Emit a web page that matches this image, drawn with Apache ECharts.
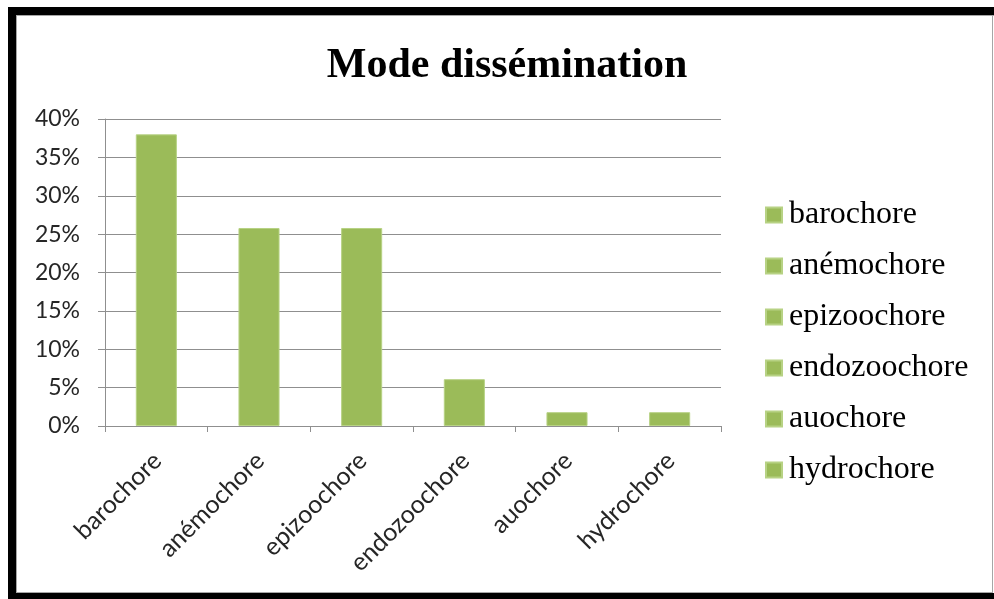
<!DOCTYPE html>
<html>
<head>
<meta charset="utf-8">
<title>Mode dissémination</title>
<script src="https://cdn.jsdelivr.net/npm/echarts@6/dist/echarts.min.js"></script>
<style>
  html, body { margin: 0; padding: 0; background: #ffffff; overflow: hidden; }
  #chart { width: 994px; height: 599px; }
</style>
</head>
<body>
<div id="chart"></div>
<script>
// Dispersal modes and their share of species (%)
const categories = ['barochore', 'anémochore', 'epizoochore', 'endozoochore', 'auochore', 'hydrochore'];
const shares = [38, 25.8, 25.8, 6.1, 1.8, 1.8];
const yTicks = { min: 0, max: 40, interval: 5 };

const barColor = '#9BBB59';
const gridGrey = '#8f8f8f';

// One series per mode so each gets its own legend entry; a shared stack keeps every bar centred.
const series = categories.map((name, i) => ({
  name: name,
  type: 'bar',
  stack: 'modes',
  barWidth: '40%',
  itemStyle: { color: barColor, borderColor: '#b7d284', borderWidth: 1 },
  data: categories.map((_, j) => (j === i ? shares[i] : '-'))
}));

const chart = echarts.init(document.getElementById('chart'), null, { renderer: 'canvas' });
chart.setOption({
  backgroundColor: '#ffffff',
  animation: false,
  title: {
    text: 'Mode dissémination',
    left: 507,
    textAlign: 'center',
    top: 45,
    padding: 0,
    textStyle: { fontFamily: 'Liberation Serif', fontWeight: 'bold', fontSize: 42, color: '#000000' }
  },
  legend: {
    orient: 'vertical',
    left: 765,
    top: 199,
    padding: 0,
    itemWidth: 16,
    itemHeight: 15,
    itemGap: 19,
    icon: 'rect',
    data: categories,
    textStyle: { fontFamily: 'Liberation Serif', fontSize: 32, lineHeight: 32, color: '#000000', padding: [0, 0, 0, 2] }
  },
  grid: { left: 105, right: 273, top: 119, bottom: 173, containLabel: false },
  xAxis: {
    type: 'category',
    data: categories,
    axisLine: { lineStyle: { color: gridGrey, width: 1 } },
    axisTick: { show: true, length: 6, lineStyle: { color: gridGrey } },
    axisLabel: {
      rotate: 45,
      margin: 14,
      verticalAlign: 'top',
      padding: [0, 11, 0, 0],
      fontFamily: 'Lato',
      fontSize: 25,
      color: '#262626'
    }
  },
  yAxis: {
    type: 'value',
    min: yTicks.min,
    max: yTicks.max,
    interval: yTicks.interval,
    axisLine: { show: true, lineStyle: { color: gridGrey, width: 1 } },
    axisTick: { show: true, length: 7, lineStyle: { color: gridGrey } },
    splitLine: { show: true, lineStyle: { color: gridGrey, width: 1 } },
    axisLabel: {
      formatter: '{value}%',
      margin: 25,
      fontFamily: 'Lato',
      fontSize: 23,
      color: '#262626'
    }
  },
  graphic: [
    // frame: heavy black on left, top and bottom, thin grey inner edge
    { type: 'rect', shape: { x: 8, y: 7, width: 8, height: 592 }, style: { fill: '#000000' }, silent: true },
    { type: 'rect', shape: { x: 8, y: 7, width: 986, height: 8 }, style: { fill: '#000000' }, silent: true },
    { type: 'rect', shape: { x: 8, y: 593, width: 986, height: 6 }, style: { fill: '#000000' }, silent: true },
    { type: 'rect', shape: { x: 16, y: 15, width: 1, height: 578 }, style: { fill: '#a6a6a6' }, silent: true },
    { type: 'rect', shape: { x: 16, y: 15, width: 978, height: 1 }, style: { fill: '#a6a6a6' }, silent: true },
    { type: 'rect', shape: { x: 992, y: 15, width: 1, height: 578 }, style: { fill: '#a6a6a6' }, silent: true },
    { type: 'rect', shape: { x: 16, y: 592, width: 977, height: 1 }, style: { fill: '#a6a6a6' }, silent: true }
  ],
  series: series
});
</script>
</body>
</html>
